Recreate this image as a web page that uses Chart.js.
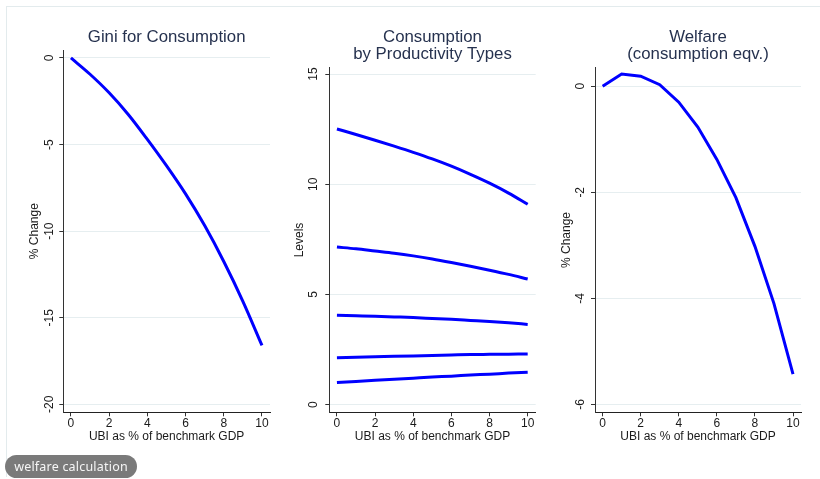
<!DOCTYPE html>
<html><head><meta charset="utf-8">
<script src="https://cdn.jsdelivr.net/npm/chart.js@4.4.1/dist/chart.umd.min.js"></script>
<style>
html,body{margin:0;padding:0;background:#fff;width:820px;height:479px;overflow:hidden;}
.frame{position:absolute;left:6px;top:6px;width:830px;height:470px;border-top:1px solid #e3ebed;border-left:1px solid #e3ebed;}
.pane{position:absolute;top:0;}
.badge{position:absolute;left:5px;top:455px;width:132px;height:23px;border-radius:12px;background:#7a7a7a;color:#f6f6f6;font-family:"Noto Sans","Open Sans",sans-serif;font-size:12.5px;letter-spacing:0.2px;line-height:23px;text-align:center;}
</style></head><body>
<div class="frame"></div>
<div class="pane" style="left:0px"><canvas id="c1" width="280" height="479"></canvas></div>
<div class="pane" style="left:280px"><canvas id="c2" width="265" height="479"></canvas></div>
<div class="pane" style="left:545px"><canvas id="c3" width="275" height="479"></canvas></div>
<div class="badge">welfare calculation</div>
<script>
// ---- data ----
const ubi = [0,1,2,3,4,5,6,7,8,9,10];
const giniChange = [0,-0.94,-2.01,-3.26,-4.70,-6.22,-7.85,-9.68,-11.75,-14.05,-16.6];
const consType1 = [12.51,12.26,12.0,11.73,11.45,11.15,10.82,10.45,10.05,9.6,9.09];
const consType2 = [7.15,7.07,6.97,6.87,6.75,6.61,6.45,6.28,6.10,5.91,5.70];
const consType3 = [4.05,4.03,4.01,3.98,3.95,3.91,3.87,3.82,3.77,3.71,3.64];
const consType4 = [2.13,2.15,2.17,2.19,2.21,2.23,2.25,2.27,2.28,2.29,2.30];
const consType5 = [1.00,1.05,1.10,1.15,1.20,1.25,1.29,1.34,1.38,1.43,1.47];
const welfareChange = [0,0.23,0.19,0.03,-0.30,-0.77,-1.38,-2.10,-3.02,-4.10,-5.43];
const xTicks = [0,2,4,6,8,10];
const giniTicks = [0,-5,-10,-15,-20];
const levelTicks = [0,5,10,15];
const welfareTicks = [0,-2,-4,-6];
const xTitle = 'UBI as % of benchmark GDP';

const FAM = '"Liberation Sans", Arial, sans-serif';
const TXT = '#1a1a1a';
const TITLE = '#26324f';
const BLUE = '#0000ff';

function pts(ys){ return ubi.map((x,i)=>({x:x,y:ys[i]})); }

function make(id, cfg){
  const H = 479;
  new Chart(document.getElementById(id), {
    type:'line',
    data:{datasets: cfg.series.map(s=>({data:pts(s), borderColor:BLUE, borderWidth:3, pointRadius:0,
      cubicInterpolationMode: cfg.smooth ? 'monotone' : 'default', tension:0, fill:false}))},
    options:{
      responsive:false, animation:false,
      layout:{padding:{left:0,right:cfg.padRight,top:0,bottom:0}},
      plugins:{
        legend:{display:false}, tooltip:{enabled:false},
        title:{display:true, text:cfg.title, fullSize:false, color:TITLE,
          font:{family:FAM, size:16.8, weight:'normal', lineHeight:1},
          padding:{top:cfg.titleTop, bottom:cfg.titleBottom}}
      },
      scales:{
        x:{type:'linear', min:-0.4, max:10.42,
          afterBuildTicks:s=>{s.ticks = xTicks.map(v=>({value:v}));},
          afterFit:s=>{s.height = H - 412.3;},
          grid:{drawOnChartArea:false, tickLength:4, tickColor:'#333'},
          border:{color:'#222', width:1},
          ticks:{font:{family:FAM,size:12}, color:TXT, padding:0.5, maxRotation:0, minRotation:0},
          title:{display:true, text:xTitle, color:TXT, font:{family:FAM,size:12}, padding:{top:0,bottom:35.1}}
        },
        y:{type:'linear', min:cfg.ymin, max:cfg.ymax,
          afterBuildTicks:s=>{s.ticks = cfg.yTicks.map(v=>({value:v}));},
          afterFit:s=>{s.width = cfg.yW;},
          grid:{color:'#e6eef0', lineWidth:1, tickLength:4, tickColor:'#333'},
          border:{color:'#333', width:1},
          ticks:{font:{family:FAM,size:12}, color:TXT, minRotation:90, maxRotation:90, crossAlign:'center', padding:cfg.yPad},
          title:{display:true, text:cfg.yTitle, color:TXT, font:{family:FAM,size:12}, padding:{top:cfg.yTitlePad,bottom:0}}
        }
      }
    }
  });
}

make('c1',{series:[giniChange], smooth:true, title:'Gini for Consumption', titleTop:28.9, titleBottom:4.3,
  ymin:-20.46, ymax:0.46, yTicks:giniTicks, yW:63.3, yPad:1.0, yTitle:'% Change', yTitlePad:27.8, padRight:10});
make('c2',{series:[consType1,consType2,consType3,consType4,consType5], smooth:true, title:['Consumption','by Productivity Types'], titleTop:29.3, titleBottom:4.8,
  ymin:-0.35, ymax:15.29, yTicks:levelTicks, yW:49.3, yPad:5.0, yTitle:'Levels', yTitlePad:12.8, padRight:9.3});
make('c3',{series:[welfareChange], smooth:false, title:['Welfare','(consumption eqv.)'], titleTop:29.3, titleBottom:4.8,
  ymin:-6.15, ymax:0.35, yTicks:welfareTicks, yW:50, yPad:5.4, yTitle:'% Change', yTitlePad:14.5, padRight:19});
</script>
</body></html>
